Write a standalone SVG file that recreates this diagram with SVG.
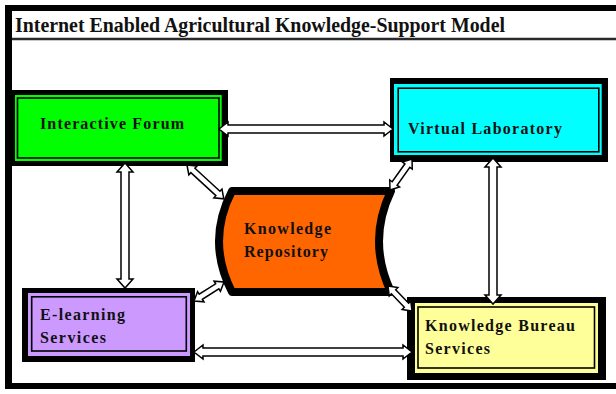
<svg xmlns="http://www.w3.org/2000/svg" width="616" height="394" viewBox="0 0 616 394">
  <style>
    .lbl { font-family: "Liberation Serif", "Times New Roman", serif; font-weight: bold; font-size: 16px; fill: #111; }
    .title { font-family: "Liberation Serif", "Times New Roman", serif; font-weight: bold; font-size: 20px; fill: #111; }
    .frame { fill: #000; }
    .inner { fill: none; stroke: #000; stroke-width: 1.6; }
    .arrow { fill: #fff; stroke: #000; stroke-width: 1.5; stroke-linejoin: miter; }
  </style>

  <!-- page background -->
  <rect x="0" y="0" width="616" height="394" fill="#fff"/>

  <!-- outer frame and title bar -->
  <g id="frame">
    <rect x="5" y="5" width="611" height="6" fill="#000"/>
    <rect x="5" y="5" width="7" height="384" fill="#000"/>
    <rect x="5" y="383" width="611" height="6" fill="#000"/>
    <line x1="12" y1="39" x2="616" y2="39" stroke="#2a2a2a" stroke-width="2.5"/>
    <text class="title" x="15" y="32" textLength="490" lengthAdjust="spacingAndGlyphs">Internet Enabled Agricultural Knowledge-Support Model</text>
  </g>

  <!-- Interactive Forum -->
  <g id="interactive-forum">
    <rect class="frame" x="12" y="90" width="216" height="76"/>
    <rect x="15" y="95" width="206.7" height="66" fill="#00ff00"/>
    <rect class="inner" x="17.5" y="98" width="201.5" height="60"/>
    <text class="lbl" x="40" y="129" textLength="144" lengthAdjust="spacing">Interactive Forum</text>
  </g>

  <!-- Virtual Laboratory -->
  <g id="virtual-laboratory">
    <rect class="frame" x="390" y="78" width="218" height="84"/>
    <rect x="394" y="84" width="207.7" height="71" fill="#00ffff"/>
    <rect class="inner" x="398.2" y="88.2" width="200.6" height="63.6"/>
    <text class="lbl" x="408" y="134" textLength="154" lengthAdjust="spacing">Virtual Laboratory</text>
  </g>

  <!-- Knowledge Repository (stored-data shape) -->
  <g id="knowledge-repository">
    <path d="M 232 191 L 391 191 Q 367 241 391 292 L 232 292 Q 206 241 232 191 Z" fill="#ff6600" stroke="#000" stroke-width="8" stroke-linejoin="round"/>
    <text class="lbl" x="244" y="234" textLength="87" lengthAdjust="spacing">Knowledge</text>
    <text class="lbl" x="244" y="257" textLength="84" lengthAdjust="spacing">Repository</text>
  </g>

  <!-- E-learning Services -->
  <g id="e-learning-services">
    <rect class="frame" x="22" y="288" width="173" height="74"/>
    <rect x="28" y="293" width="162" height="63" fill="#cc99ff"/>
    <rect class="inner" x="31.7" y="296.8" width="154.6" height="54.2"/>
    <text class="lbl" x="40" y="320" textLength="85" lengthAdjust="spacing">E-learning</text>
    <text class="lbl" x="40" y="343" textLength="66" lengthAdjust="spacing">Services</text>
  </g>

  <!-- Knowledge Bureau Services -->
  <g id="knowledge-bureau-services">
    <rect class="frame" x="407" y="297" width="199" height="83"/>
    <rect x="415" y="303" width="183" height="70" fill="#ffff99"/>
    <rect class="inner" x="418" y="307" width="176.5" height="61"/>
    <text class="lbl" x="425" y="331" textLength="150" lengthAdjust="spacing">Knowledge Bureau</text>
    <text class="lbl" x="425" y="354" textLength="65" lengthAdjust="spacing">Services</text>
  </g>

  <!-- hollow double-headed connectors -->
  <g id="connectors">
    <!-- Interactive Forum <-> Virtual Laboratory -->
    <path class="arrow" transform="translate(219,129)" d="M0,0 L9,-7 L9,-4 L165,-4 L165,-7 L174,0 L165,7 L165,4 L9,4 L9,7 Z"/>
    <!-- E-learning Services <-> Knowledge Bureau Services -->
    <path class="arrow" transform="translate(194,352)" d="M0,0 L9,-7 L9,-4 L209,-4 L209,-7 L218,0 L209,7 L209,4 L9,4 L9,7 Z"/>
    <!-- Interactive Forum <-> E-learning Services -->
    <path class="arrow" transform="translate(125,163) rotate(90)" d="M0,0 L9,-8 L9,-4 L116,-4 L116,-8 L125,0 L116,8 L116,4 L9,4 L9,8 Z"/>
    <!-- Virtual Laboratory <-> Knowledge Bureau Services -->
    <path class="arrow" transform="translate(493,158) rotate(90)" d="M0,0 L9,-8 L9,-4 L137,-4 L137,-8 L146,0 L137,8 L137,4 L9,4 L9,8 Z"/>
    <!-- Interactive Forum <-> Knowledge Repository -->
    <path class="arrow" transform="translate(187,165) rotate(42.6)" d="M0,0 L8,-6 L8,-3 L42,-3 L42,-6 L50,0 L42,6 L42,3 L8,3 L8,6 Z"/>
    <!-- Knowledge Repository <-> Virtual Laboratory -->
    <path class="arrow" transform="translate(390,190) rotate(-54.6)" d="M0,0 L8,-6 L8,-3 L30,-3 L30,-6 L38,0 L30,6 L30,3 L8,3 L8,6 Z"/>
    <!-- E-learning Services <-> Knowledge Repository -->
    <path class="arrow" transform="translate(194,301) rotate(-32.3)" d="M0,0 L8,-6 L8,-3 L27.5,-3 L27.5,-6 L35.5,0 L27.5,6 L27.5,3 L8,3 L8,6 Z"/>
    <!-- Knowledge Repository <-> Knowledge Bureau Services -->
    <path class="arrow" transform="translate(388,286) rotate(46.2)" d="M0,0 L8,-6 L8,-3 L26.7,-3 L26.7,-6 L34.7,0 L26.7,6 L26.7,3 L8,3 L8,6 Z"/>
  </g>
</svg>
